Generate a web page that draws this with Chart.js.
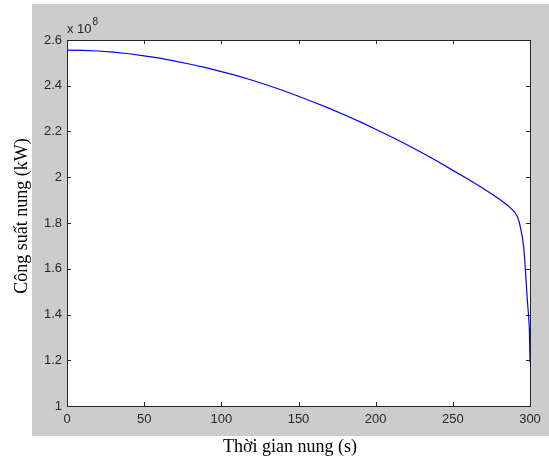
<!DOCTYPE html>
<html>
<head>
<meta charset="utf-8">
<script src="https://cdn.jsdelivr.net/npm/chart.js@4.4.0/dist/chart.umd.min.js"></script>
<style>
html,body{margin:0;padding:0;background:#fff;}
canvas{display:block;}
</style>
</head>
<body>
<canvas id="c" width="549" height="460"></canvas>
<script>
// Time (s)
const timeS = [0,10,20,30,40,50,60,70,80,90,100,110,120,130,140,150,160,170,180,190,200,210,220,230,240,250,260,270,275,280,285,288,290,292,293,294,295,296,297,298,299,299.6,300];
// Heating power (x 10^8 kW)
const powerE8 = [2.556,2.555,2.552,2.547,2.540,2.531,2.521,2.508,2.494,2.479,2.462,2.444,2.424,2.402,2.379,2.354,2.328,2.301,2.272,2.242,2.210,2.177,2.143,2.107,2.070,2.030,1.991,1.950,1.928,1.905,1.880,1.862,1.848,1.825,1.805,1.775,1.740,1.690,1.600,1.490,1.400,1.340,1.190];
const xTicks = [0,50,100,150,200,250,300];
const yTicks = [1,1.2,1.4,1.6,1.8,2,2.2,2.4,2.6];
const xTitle = "Thời gian nung (s)";
const yTitle = "Công suất nung (kW)";
const yExponent = "8";

const framePlugin = {
  id: 'frame',
  beforeDraw(chart) {
    const ctx = chart.ctx, a = chart.chartArea;
    ctx.save();
    ctx.fillStyle = '#ffffff';
    ctx.fillRect(0, 0, chart.width, chart.height);
    ctx.fillStyle = '#cccccc';
    ctx.fillRect(32, 4, chart.width - 32, 432);
    ctx.fillStyle = '#ffffff';
    ctx.fillRect(a.left, a.top, a.right - a.left, a.bottom - a.top);
    ctx.restore();
  },
  afterDraw(chart) {
    const ctx = chart.ctx, a = chart.chartArea;
    const xs = chart.scales.x, ys = chart.scales.y;
    ctx.save();
    ctx.strokeStyle = '#262626';
    ctx.lineWidth = 1;
    ctx.beginPath();
    ctx.rect(Math.round(a.left) + 0.5, Math.round(a.top) + 0.5, Math.round(a.right - a.left), Math.round(a.bottom - a.top));
    ctx.stroke();
    const L = 4;
    ctx.beginPath();
    xTicks.forEach(v => {
      const px = Math.round(xs.getPixelForValue(v)) + 0.5;
      ctx.moveTo(px, a.bottom); ctx.lineTo(px, a.bottom - L);
      ctx.moveTo(px, a.top); ctx.lineTo(px, a.top + L);
    });
    yTicks.forEach(v => {
      const py = Math.round(ys.getPixelForValue(v)) + 0.5;
      ctx.moveTo(a.left, py); ctx.lineTo(a.left + L, py);
      ctx.moveTo(a.right, py); ctx.lineTo(a.right - L, py);
    });
    ctx.stroke();
    // exponent label
    ctx.fillStyle = '#262626';
    ctx.textBaseline = 'alphabetic';
    ctx.textAlign = 'left';
    ctx.font = '13px "Liberation Sans", Arial, sans-serif';
    ctx.fillText('x 10', a.left, a.top - 7);
    const w = ctx.measureText('x 10').width;
    ctx.font = '10px "Liberation Sans", Arial, sans-serif';
    ctx.fillText(yExponent, a.left + w + 1, a.top - 15);
    // axis titles
    ctx.fillStyle = '#000000';
    ctx.font = '18px "Liberation Serif", "Times New Roman", serif';
    ctx.textAlign = 'center';
    ctx.fillText(xTitle, 290, 452);
    ctx.translate(27, 216);
    ctx.rotate(-Math.PI / 2);
    ctx.fillText(yTitle, 0, 0);
    ctx.restore();
  }
};

new Chart(document.getElementById('c'), {
  type: 'line',
  data: {
    datasets: [{
      data: timeS.map((t, i) => ({x: t, y: powerE8[i]})),
      borderColor: '#0000ff',
      borderWidth: 1.2,
      pointRadius: 0,
      tension: 0,
      fill: false
    }]
  },
  options: {
    responsive: false,
    animation: false,
    devicePixelRatio: 1,
    layout: { padding: { left: 0, right: 19, top: 40, bottom: 0 } },
    plugins: { legend: { display: false }, tooltip: { enabled: false } },
    scales: {
      x: {
        type: 'linear', min: 0, max: 300,
        afterBuildTicks(s) { s.ticks = xTicks.map(v => ({value: v})); },
        afterFit(s) { s.height = 54; },
        grid: { display: false, drawTicks: false },
        border: { display: false },
        ticks: {
          padding: 6, color: '#262626', maxRotation: 0,
          font: { family: '"Liberation Sans", Arial, sans-serif', size: 13 },
          callback: v => String(v)
        }
      },
      y: {
        type: 'linear', min: 1, max: 2.6,
        afterBuildTicks(s) { s.ticks = yTicks.map(v => ({value: v})); },
        afterFit(s) { s.width = 67; },
        grid: { display: false, drawTicks: false },
        border: { display: false },
        ticks: {
          padding: 5, color: '#262626',
          font: { family: '"Liberation Sans", Arial, sans-serif', size: 13 },
          callback: v => String(Number(v.toFixed(1)))
        }
      }
    }
  },
  plugins: [framePlugin]
});
</script>
</body>
</html>
